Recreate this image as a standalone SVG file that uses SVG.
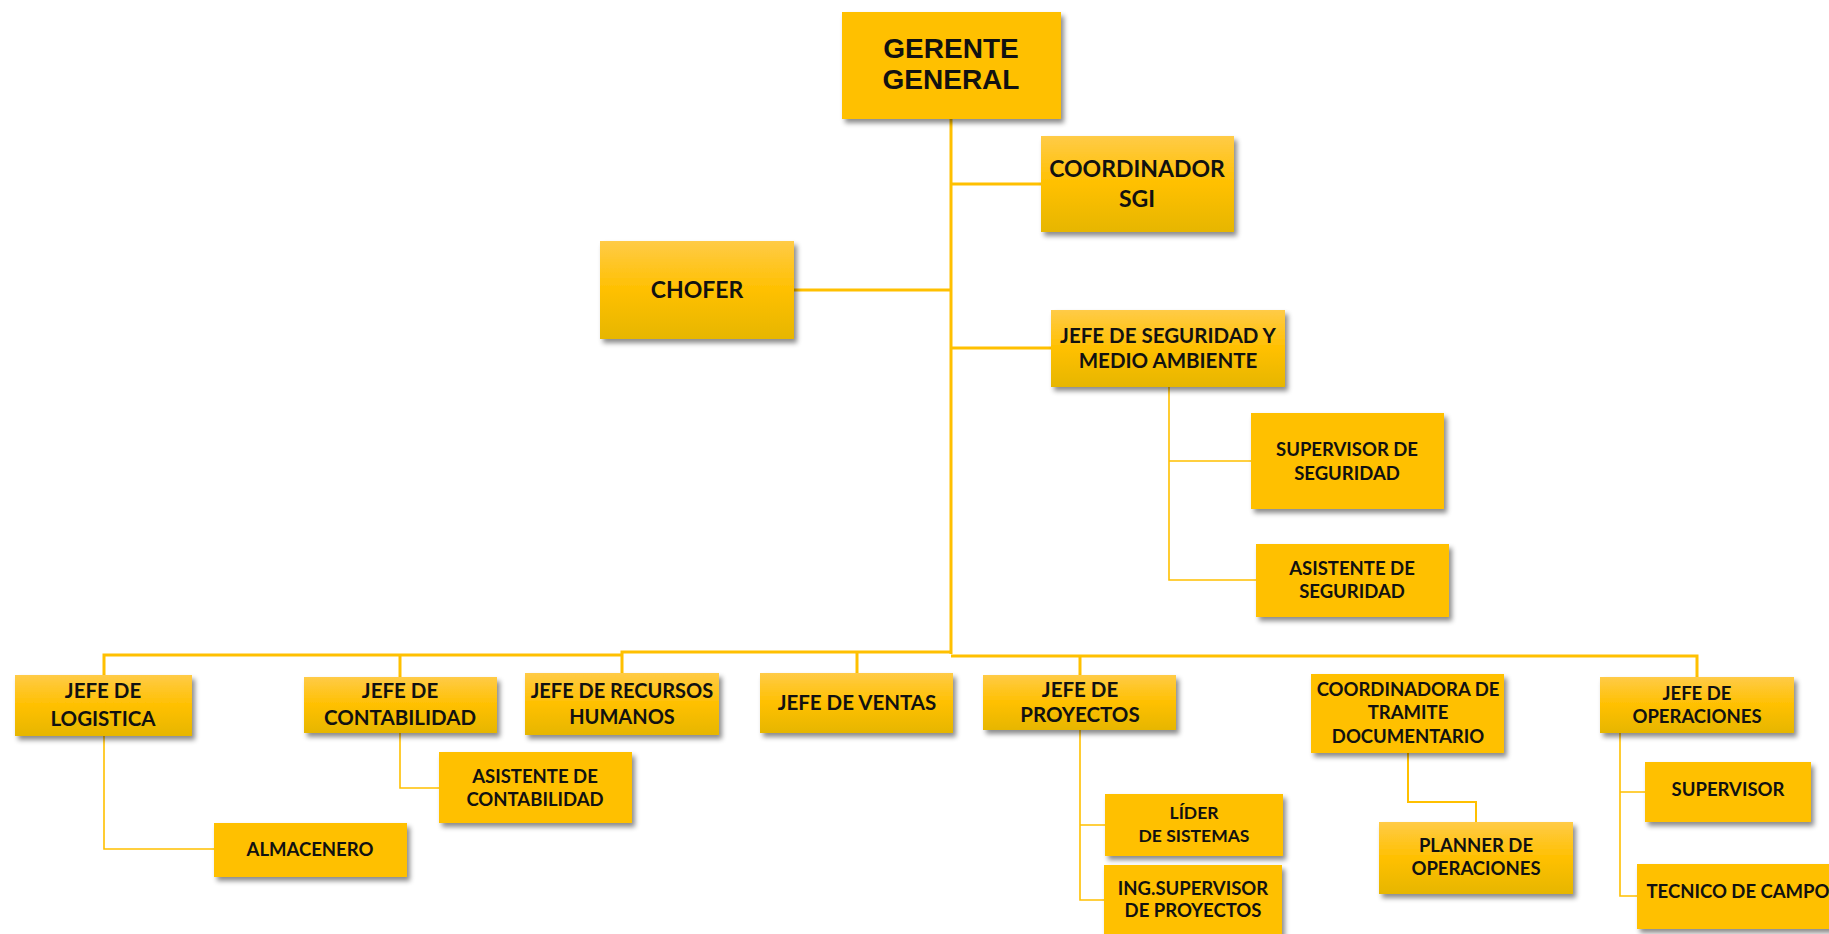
<svg xmlns="http://www.w3.org/2000/svg" width="1829" height="934" viewBox="0 0 1829 934">
  <defs>
    <linearGradient id="gold" x1="0" y1="0" x2="0" y2="1">
      <stop offset="0" stop-color="#FFCB47"/>
      <stop offset="0.5" stop-color="#FFC000"/>
      <stop offset="1" stop-color="#E6B600"/>
    </linearGradient>
    <filter id="shadow" x="-10%" y="-10%" width="130%" height="140%">
      <feDropShadow dx="3" dy="4" stdDeviation="2.5" flood-color="#000" flood-opacity="0.45"/>
    </filter>
    <style>
      .box { filter: url(#shadow); }
      .flat { fill: #FFC000; }
      .grad { fill: url(#gold); }
      .lbl { font-family: Lato, "Open Sans", sans-serif; font-weight: 700; fill: #111; text-anchor: middle; }
      .top { font-family: "Liberation Sans", Arial, sans-serif; font-weight: 700; fill: #111; text-anchor: middle; font-size: 28px; }
      .s23 { font-size: 23px; }
      .s21 { font-size: 20.5px; }
      .s20 { font-size: 20px; }
      .s18 { font-size: 18.5px; }
      .s17 { font-size: 17.5px; }
      .ln { fill: none; stroke: #FFC000; stroke-linejoin: miter; }
      .w3 { stroke-width: 3; }
      .w2 { stroke-width: 2; }
      .w1 { stroke-width: 1.6; }
    </style>
  </defs>
  <rect width="1829" height="934" fill="#fff"/>

  <g id="connectors">
    <!-- trunk from the general manager down to the department bus -->
    <path class="ln w3" d="M951 119 V654"/>
    <path class="ln w3" d="M951 184 H1041"/>
    <path class="ln w3" d="M794 290 H951"/>
    <path class="ln w3" d="M951 348 H1051"/>
    <!-- safety subtree -->
    <path class="ln w1" d="M1169 387 V580 H1256 M1169 461 H1251"/>
    <!-- department bus -->
    <path class="ln w3" d="M104 675 V655 H622 M622 673 V652 H951 M951 656 H1697 V677"/>
    <path class="ln w3" d="M400 655 V677"/>
    <path class="ln w3" d="M857 652 V673"/>
    <path class="ln w3" d="M1080 656 V675"/>
    <!-- lower subtrees -->
    <path class="ln w1" d="M104 736 V849 H214"/>
    <path class="ln w1" d="M400 733 V788 H439"/>
    <path class="ln w1" d="M1080 730 V900 H1104 M1080 825 H1105"/>
    <path class="ln w2" d="M1408 753 V802 H1476 V822"/>
    <path class="ln w1" d="M1620 733 V896 H1637 M1620 792 H1645"/>
  </g>

  <g id="gerente-general">
    <rect class="box flat" x="842" y="12" width="219" height="107"/>
    <text class="top" x="951" y="58">GERENTE</text>
    <text class="top" x="951" y="89">GENERAL</text>
  </g>

  <g id="coordinador-sgi">
    <rect class="box grad" x="1041" y="136" width="193" height="96"/>
    <text class="lbl s23" x="1137" y="177">COORDINADOR</text>
    <text class="lbl s23" x="1137" y="207">SGI</text>
  </g>

  <g id="chofer">
    <rect class="box grad" x="600" y="241" width="194" height="98"/>
    <text class="lbl s23" x="697" y="298">CHOFER</text>
  </g>

  <g id="jefe-seguridad">
    <rect class="box grad" x="1051" y="310" width="234" height="77"/>
    <text class="lbl s21" x="1168" y="343">JEFE DE SEGURIDAD Y</text>
    <text class="lbl s21" x="1168" y="368">MEDIO AMBIENTE</text>
  </g>

  <g id="supervisor-seguridad">
    <rect class="box flat" x="1251" y="413" width="193" height="96"/>
    <text class="lbl s18" x="1347" y="456">SUPERVISOR DE</text>
    <text class="lbl s18" x="1347" y="480">SEGURIDAD</text>
  </g>

  <g id="asistente-seguridad">
    <rect class="box flat" x="1256" y="544" width="193" height="73"/>
    <text class="lbl s18" x="1352" y="575">ASISTENTE DE</text>
    <text class="lbl s18" x="1352" y="598">SEGURIDAD</text>
  </g>

  <g id="jefe-logistica">
    <rect class="box grad" x="15" y="675" width="177" height="61"/>
    <text class="lbl s21" x="103" y="698">JEFE DE</text>
    <text class="lbl s21" x="103" y="726">LOGISTICA</text>
  </g>

  <g id="almacenero">
    <rect class="box flat" x="214" y="823" width="193" height="54"/>
    <text class="lbl s18" x="310" y="856">ALMACENERO</text>
  </g>

  <g id="jefe-contabilidad">
    <rect class="box grad" x="304" y="677" width="193" height="56"/>
    <text class="lbl s21" x="400" y="698">JEFE DE</text>
    <text class="lbl s21" x="400" y="725">CONTABILIDAD</text>
  </g>

  <g id="asistente-contabilidad">
    <rect class="box flat" x="439" y="752" width="193" height="71"/>
    <text class="lbl s18" x="535" y="783">ASISTENTE DE</text>
    <text class="lbl s18" x="535" y="806">CONTABILIDAD</text>
  </g>

  <g id="jefe-rrhh">
    <rect class="box grad" x="525" y="673" width="194" height="62"/>
    <text class="lbl s20" x="622" y="698">JEFE DE RECURSOS</text>
    <text class="lbl s20" x="622" y="724">HUMANOS</text>
  </g>

  <g id="jefe-ventas">
    <rect class="box grad" x="760" y="673" width="193" height="60"/>
    <text class="lbl s21" x="857" y="710">JEFE DE VENTAS</text>
  </g>

  <g id="jefe-proyectos">
    <rect class="box grad" x="983" y="675" width="193" height="55"/>
    <text class="lbl s21" x="1080" y="697">JEFE DE</text>
    <text class="lbl s21" x="1080" y="722">PROYECTOS</text>
  </g>

  <g id="lider-sistemas">
    <rect class="box flat" x="1105" y="794" width="178" height="62"/>
    <text class="lbl s17" x="1194" y="819">LÍDER</text>
    <text class="lbl s17" x="1194" y="842">DE SISTEMAS</text>
  </g>

  <g id="ing-supervisor-proyectos">
    <rect class="box flat" x="1104" y="865" width="178" height="80"/>
    <text class="lbl s18" x="1193" y="895">ING.SUPERVISOR</text>
    <text class="lbl s18" x="1193" y="917">DE PROYECTOS</text>
  </g>

  <g id="coordinadora-tramite">
    <rect class="box flat" x="1311" y="674" width="193" height="79"/>
    <text class="lbl s18" x="1408" y="696">COORDINADORA DE</text>
    <text class="lbl s18" x="1408" y="719">TRAMITE</text>
    <text class="lbl s18" x="1408" y="743">DOCUMENTARIO</text>
  </g>

  <g id="planner-operaciones">
    <rect class="box grad" x="1379" y="822" width="194" height="72"/>
    <text class="lbl s18" x="1476" y="852">PLANNER DE</text>
    <text class="lbl s18" x="1476" y="875">OPERACIONES</text>
  </g>

  <g id="jefe-operaciones">
    <rect class="box grad" x="1600" y="677" width="194" height="56"/>
    <text class="lbl s18" x="1697" y="700">JEFE DE</text>
    <text class="lbl s18" x="1697" y="723">OPERACIONES</text>
  </g>

  <g id="supervisor">
    <rect class="box flat" x="1645" y="762" width="166" height="60"/>
    <text class="lbl s18" x="1728" y="796">SUPERVISOR</text>
  </g>

  <g id="tecnico-campo">
    <rect class="box flat" x="1637" y="864" width="203" height="65"/>
    <text class="lbl s18" x="1738" y="898">TECNICO DE CAMPO</text>
  </g>
</svg>
